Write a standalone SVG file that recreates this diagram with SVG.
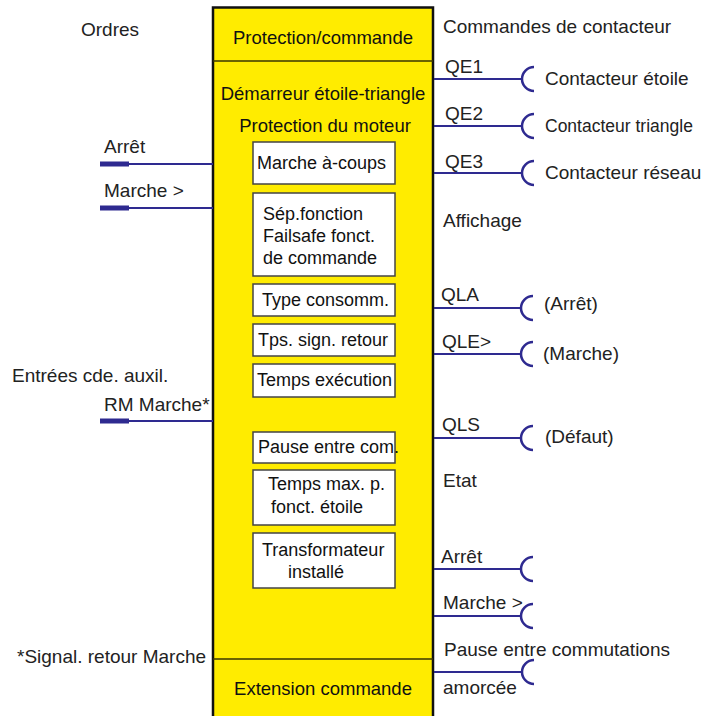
<svg xmlns="http://www.w3.org/2000/svg" width="703" height="716" viewBox="0 0 703 716">
  <style>
    text { font-family: "Liberation Sans", Arial, sans-serif; font-size: 19px; fill: #222; }
    .c { text-anchor: middle; }
    .in text { fill: #111; font-size: 18.5px; }
    .in.p text { font-size: 18px; }
    .main { fill: #ffec00; stroke: #111; stroke-width: 2.5; }
    .div { stroke: #3a3600; stroke-width: 1.5; fill: none; }
    .box { fill: #fff; stroke: #444; stroke-width: 1.5; }
    .wire { stroke: #2e2a90; stroke-width: 2; fill: none; }
    .plug { stroke: #2e2a90; stroke-width: 5; fill: none; }
    .sock { stroke: #2e2a90; stroke-width: 2.5; fill: none; }
  </style>

  <!-- function block -->
  <g id="block" class="in">
    <rect class="main" x="213" y="7.5" width="220" height="720"/>
    <line class="div" x1="213" y1="61" x2="433" y2="61"/>
    <line class="div" x1="213" y1="659" x2="433" y2="659"/>
    <text class="c" x="323" y="44">Protection/commande</text>
    <text class="c" x="323" y="100">Démarreur étoile-triangle</text>
    <text class="c" x="325" y="132">Protection du moteur</text>
    <text class="c" x="323" y="695">Extension commande</text>
  </g>

  <!-- parameter boxes -->
  <g id="p-marche-a-coups" class="in p">
    <rect class="box" x="253" y="142" width="142" height="42"/>
    <text x="257" y="169">Marche à-coups</text>
  </g>
  <g id="p-sep-fonction" class="in p">
    <rect class="box" x="253" y="193" width="142" height="83"/>
    <text x="263" y="220">Sép.fonction</text>
    <text x="263" y="242">Failsafe fonct.</text>
    <text x="263" y="264">de commande</text>
  </g>
  <g id="p-type-consomm" class="in p">
    <rect class="box" x="253" y="284" width="142" height="32"/>
    <text x="262" y="306">Type consomm.</text>
  </g>
  <g id="p-tps-sign-retour" class="in p">
    <rect class="box" x="253" y="324" width="142" height="32"/>
    <text x="258" y="346">Tps. sign. retour</text>
  </g>
  <g id="p-temps-execution" class="in p">
    <rect class="box" x="253" y="364" width="142" height="33"/>
    <text x="257" y="386">Temps exécution</text>
  </g>
  <g id="p-pause-entre-com" class="in p">
    <rect class="box" x="253" y="432" width="142" height="31"/>
    <text x="258" y="453">Pause entre com.</text>
  </g>
  <g id="p-temps-max" class="in p">
    <rect class="box" x="253" y="470" width="142" height="55"/>
    <text x="268" y="490">Temps max. p.</text>
    <text x="271" y="513">fonct. étoile</text>
  </g>
  <g id="p-transformateur" class="in p">
    <rect class="box" x="253" y="533" width="142" height="55"/>
    <text x="262" y="556">Transformateur</text>
    <text x="288" y="578">installé</text>
  </g>

  <!-- section headings -->
  <g id="headings">
    <text x="81" y="36">Ordres</text>
    <text x="12" y="382">Entrées cde. auxil.</text>
    <text x="17" y="663">*Signal. retour Marche</text>
    <text x="443" y="33">Commandes de contacteur</text>
    <text x="443" y="227">Affichage</text>
    <text x="443" y="487">Etat</text>
  </g>

  <!-- inputs -->
  <g id="in-arret">
    <text x="104" y="153">Arrêt</text>
  </g>
  <g id="in-marche">
    <text x="104" y="197">Marche &gt;</text>
  </g>
  <g id="in-rm-marche">
    <text x="104" y="411">RM Marche*</text>
  </g>

  <!-- outputs -->
  <g id="out-qe1">
    <text x="445" y="73">QE1</text>
    <text x="545" y="85">Contacteur étoile</text>
  </g>
  <g id="out-qe2">
    <text x="445" y="120">QE2</text>
    <text x="545" y="132" style="font-size:17.5px">Contacteur triangle</text>
  </g>
  <g id="out-qe3">
    <text x="445" y="168">QE3</text>
    <text x="545" y="179">Contacteur réseau</text>
  </g>
  <g id="out-qla">
    <text x="441" y="301">QLA</text>
    <text x="544" y="310">(Arrêt)</text>
  </g>
  <g id="out-qle">
    <text x="442" y="348">QLE&gt;</text>
    <text x="543" y="360">(Marche)</text>
  </g>
  <g id="out-qls">
    <text x="442" y="431">QLS</text>
    <text x="545" y="443">(Défaut)</text>
  </g>
  <g id="out-arret">
    <text x="441" y="563">Arrêt</text>
  </g>
  <g id="out-marche">
    <text x="443" y="609">Marche &gt;</text>
  </g>
  <g id="out-pause">
    <text x="444" y="656">Pause entre commutations</text>
    <text x="443" y="694">amorcée</text>
  </g>

  <!-- connectors -->
  <g id="connectors">
    <!-- input plugs -->
    <path class="wire" d="M129 164H213 M129 208H213 M129 421H213"/>
    <path class="plug" d="M100 164H129 M100 208H129 M100 421H129"/>
    <!-- output sockets -->
    <path class="wire" d="M434 79H522 M434 126H522 M434 173H522 M434 308H521 M434 354H521 M434 438H521 M434 569H521 M434 616H521 M434 672H522"/>
    <path class="sock" d="M534 67A12 12 0 0 0 534 91 M534 114A12 12 0 0 0 534 138 M534 161A12 12 0 0 0 534 185 M533 296A12 12 0 0 0 533 320 M533 342A12 12 0 0 0 533 366 M533 426A12 12 0 0 0 533 450 M533 557A12 12 0 0 0 533 581 M533 604A12 12 0 0 0 533 628 M534 660A12 12 0 0 0 534 684"/>
  </g>
</svg>
